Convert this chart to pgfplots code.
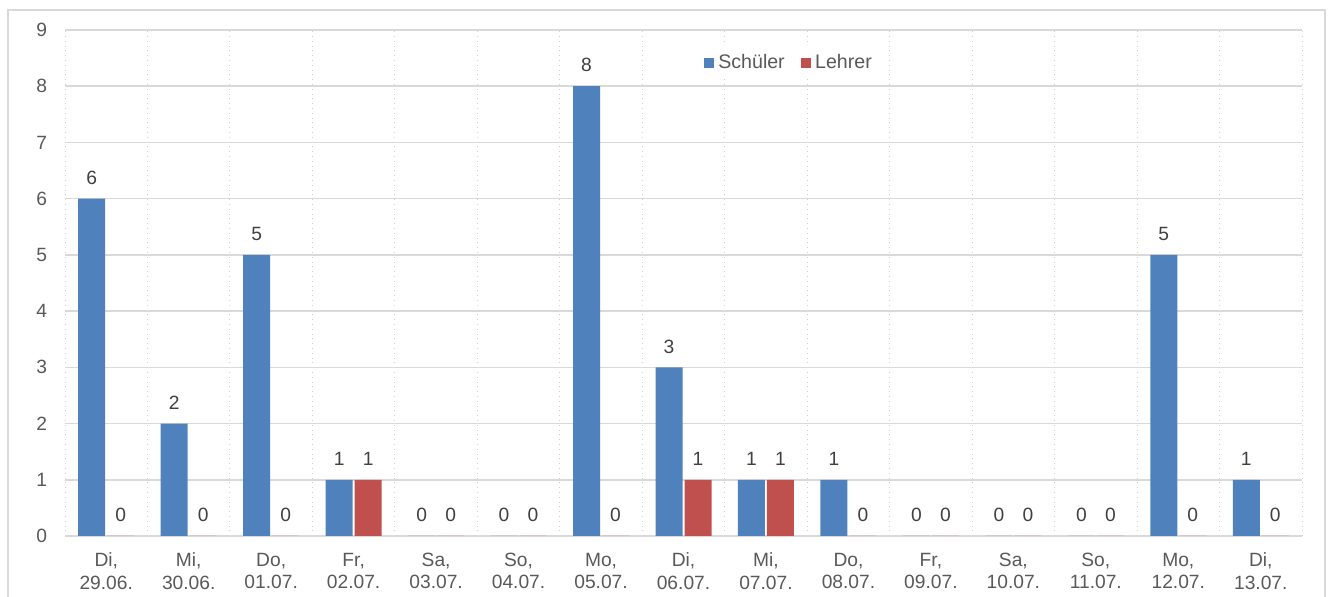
\documentclass[border=0pt]{standalone}
\usepackage{pgfplots}
\pgfplotsset{compat=1.18}
\usepackage{fontspec}
\setmainfont{Liberation Sans}
\definecolor{sblue}{HTML}{4F81BD}
\definecolor{lred}{HTML}{C0504D}
\definecolor{txtgray}{HTML}{595959}
\definecolor{lblgray}{HTML}{404040}
\definecolor{gridgray}{HTML}{D9D9D9}
\begin{document}
\begin{tikzpicture}[x=1pt,y=1pt]
\path[use as bounding box] (0,0) rectangle (666.5,298.5);
\draw[gridgray, line width=0.8pt] (4,-10) rectangle (662.5,293.5);
\begin{axis}[
  at={(32.5pt,30.5pt)}, anchor=south west,
  scale only axis, width=618.5pt, height=253pt,
  ybar=1pt, bar width=13.5pt,
  xmin=-0.5, xmax=14.5, ymin=0, ymax=9,
  ytick={0,...,9},
  xtick={0,...,14},
  xticklabels={{Di,\\29.06.},{Mi,\\30.06.},{Do,\\01.07.},{Fr,\\02.07.},{Sa,\\03.07.},{So,\\04.07.},{Mo,\\05.07.},{Di,\\06.07.},{Mi,\\07.07.},{Do,\\08.07.},{Fr,\\09.07.},{Sa,\\10.07.},{So,\\11.07.},{Mo,\\12.07.},{Di,\\13.07.}},
  minor xtick={-0.5,0.5,...,14.5},
  xminorgrids=true, ymajorgrids=true,
  minor x grid style={draw=gridgray!90!gray, dotted, line width=0.5pt},
  y grid style={draw=gridgray, line width=0.8pt},
  axis line style={draw=none},
  major tick length=0pt, minor tick length=0pt,
  tick label style={font=\fontsize{9.6}{11.2}\selectfont, text=txtgray},
  /pgf/number format/assume math mode=true,
  xticklabel style={align=center, yshift=-5pt},
  yticklabel style={xshift=-5.5pt},
  nodes near coords,
  every node near coord/.append style={font=\fontsize{9.6}{11}\selectfont, text=lblgray, yshift=3.5pt},
  legend style={at={(0.586,0.935)}, anchor=center, draw=none, fill=white, font=\fontsize{9.8}{11}\selectfont, text=txtgray, legend columns=2, /tikz/every even column/.append style={column sep=6pt}, inner sep=2pt},
  legend image code/.code={\fill[#1] (0pt,-2.6pt) rectangle (5.2pt,2.6pt);},
  clip=false,
]
\addplot[fill=sblue, draw=none] coordinates {(0,6) (1,2) (2,5) (3,1) (4,0) (5,0) (6,8) (7,3) (8,1) (9,1) (10,0) (11,0) (12,0) (13,5) (14,1)};
\addplot[fill=lred, draw=none] coordinates {(0,0) (1,0) (2,0) (3,1) (4,0) (5,0) (6,0) (7,1) (8,1) (9,0) (10,0) (11,0) (12,0) (13,0) (14,0)};
\legend{Schüler, Lehrer}
\end{axis}
\end{tikzpicture}
\end{document}
